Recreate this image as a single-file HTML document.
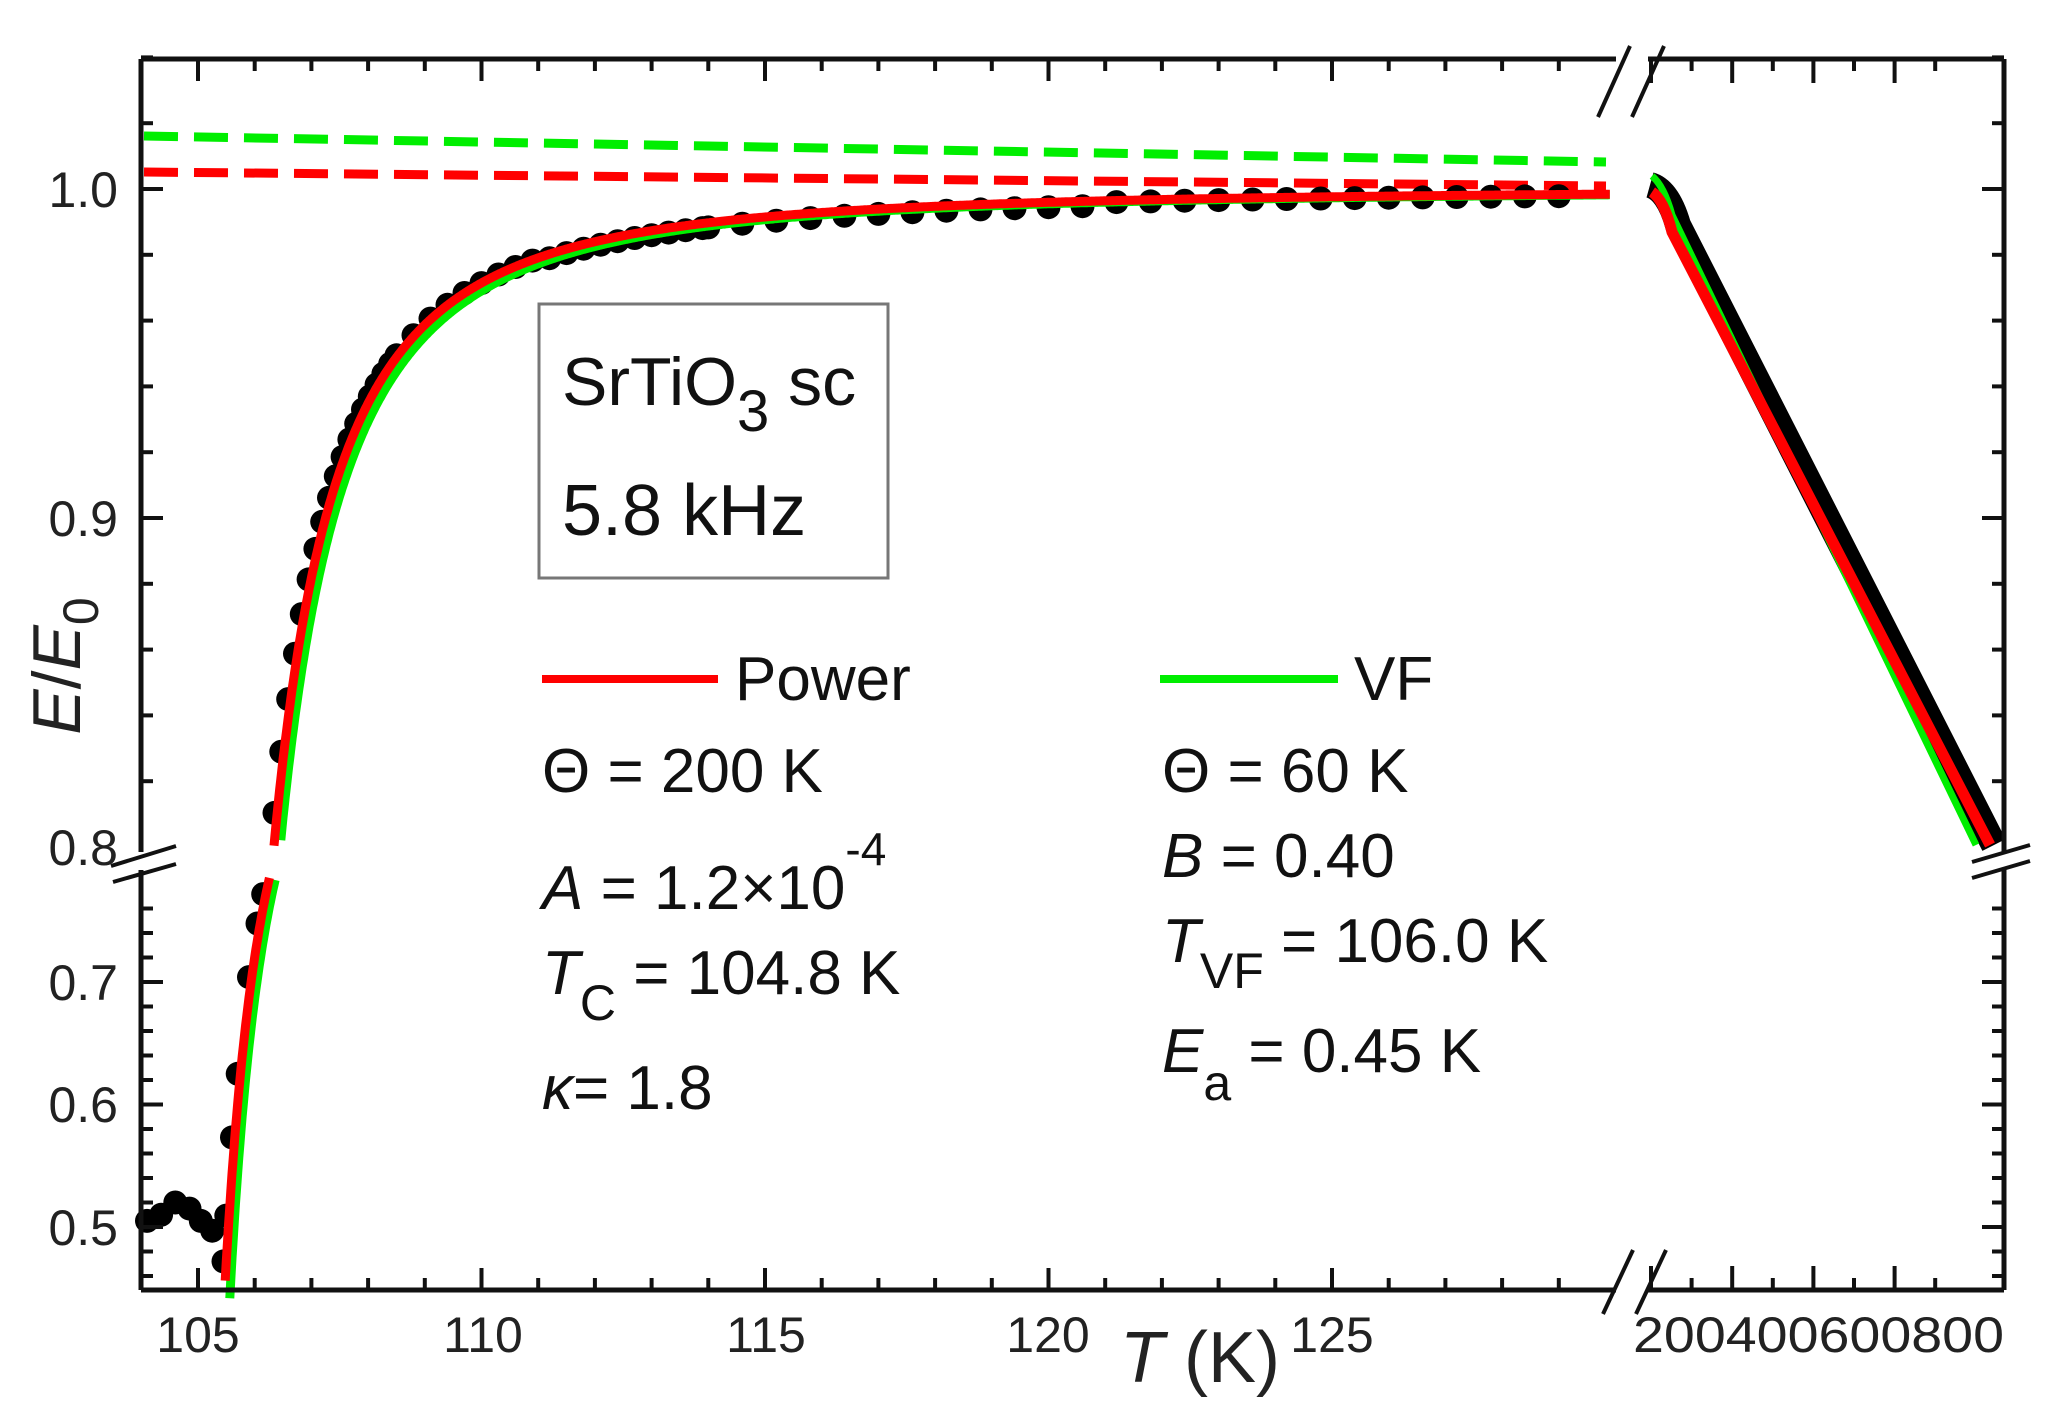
<!DOCTYPE html>
<html><head><meta charset="utf-8"><style>
html,body{margin:0;padding:0;background:#fff;}
svg{display:block;}
.tk{font-family:"Liberation Sans",sans-serif;font-size:50px;fill:#222;}
.lg{font-family:"Liberation Sans Narrow","Liberation Sans",sans-serif;font-size:62px;fill:#111;}
</style></head><body>
<svg id="s" width="2047" height="1416" viewBox="0 0 2047 1416" xmlns="http://www.w3.org/2000/svg">
<g id="plot"></g>
<g id="axes" stroke="#111" fill="none" stroke-width="5"></g>
<rect x="539" y="304" width="349" height="274" fill="none" stroke="#777" stroke-width="3"/>
<text class="lg" x="562" y="405" style="font-size:68px">SrTiO<tspan dy="26" style="font-size:58px">3</tspan><tspan dy="-26"> sc</tspan></text>
<text class="lg" x="562" y="535" style="font-size:72px">5.8 kHz</text>
<line x1="542" y1="679" x2="718" y2="679" stroke="#f00" stroke-width="8"/>
<text class="lg" x="735" y="700">Power</text>
<line x1="1160" y1="679" x2="1338" y2="679" stroke="#0e0" stroke-width="8"/>
<text class="lg" x="1354" y="700">VF</text>
<text class="lg" x="542" y="792">Θ = 200 K</text>
<text class="lg" x="542" y="909"><tspan font-style="italic">A</tspan> = 1.2×10<tspan dy="-44" style="font-size:46px">-4</tspan></text>
<text class="lg" x="542" y="994"><tspan font-style="italic">T</tspan><tspan dy="26" style="font-size:50px">C</tspan><tspan dy="-26"> = 104.8 K</tspan></text>
<text class="lg" x="542" y="1109"><tspan font-style="italic">κ</tspan>= 1.8</text>
<text class="lg" x="1162" y="792">Θ = 60 K</text>
<text class="lg" x="1162" y="877"><tspan font-style="italic">B</tspan> = 0.40</text>
<text class="lg" x="1162" y="962"><tspan font-style="italic">T</tspan><tspan dy="26" style="font-size:50px">VF</tspan><tspan dy="-26"> = 106.0 K</tspan></text>
<text class="lg" x="1162" y="1072"><tspan font-style="italic">E</tspan><tspan dy="28" style="font-size:50px">a</tspan><tspan dy="-28"> = 0.45 K</tspan></text>
<g class="tk" text-anchor="end">
<text x="118" y="207">1.0</text><text x="118" y="536">0.9</text><text x="118" y="865">0.8</text>
<text x="118" y="1000">0.7</text><text x="118" y="1122">0.6</text><text x="118" y="1245">0.5</text>
</g>
<g class="tk" text-anchor="middle">
<text x="198" y="1352">105</text><text x="483" y="1352">110</text><text x="766" y="1352">115</text>
<text x="1048" y="1352">120</text><text x="1332" y="1352">125</text>
</g>
<text class="tk" x="1633" y="1352" textLength="371" lengthAdjust="spacingAndGlyphs">200400600800</text>
<text class="tk" x="1120" y="1382" style="font-size:72px"><tspan font-style="italic">T</tspan> (K)</text>
<text class="tk" transform="translate(80,666) rotate(-90)" text-anchor="middle" style="font-size:68px"><tspan font-style="italic">E</tspan>/<tspan font-style="italic">E</tspan><tspan dy="18" style="font-size:50px">0</tspan></text>
</svg>
<script>
(function(){
var NS="http://www.w3.org/2000/svg";
var plot=document.getElementById("plot"),axes=document.getElementById("axes");
function el(tag,attrs,parent){var e=document.createElementNS(NS,tag);for(var k in attrs)e.setAttribute(k,attrs[k]);(parent||plot).appendChild(e);return e;}
function X(T){return 198+(T-105)*56.7;}
function Y(v){ if(v>=0.8) return 189+(1-v)*3290; return 1227-(v-0.5)*1225; }
function model(T,T0,c,k){var d=T-T0; if(d<=0) return 0; return 1-c/Math.pow(d,k);}
el("line",{x1:144,y1:136,x2:1606,y2:162,stroke:"#0e0","stroke-width":9,"stroke-dasharray":"34 16"});
el("line",{x1:144,y1:172,x2:1606,y2:186,stroke:"#f00","stroke-width":9,"stroke-dasharray":"34 16"});
var dots=[];
[[104.1,0.505],[104.35,0.51],[104.6,0.52],[104.85,0.515],[105.05,0.505],[105.25,0.497]].forEach(function(p){dots.push([X(p[0]),Y(p[1])]);});
var Ts=[105.45,105.5,105.6,105.7,105.9,106.05,106.15,106.2];
for(var t=106.35;t<108.5;t+=0.12)Ts.push(t);
for(var t=108.5;t<114;t+=0.3)Ts.push(t);
for(var t=114;t<129.5;t+=0.6)Ts.push(t);
Ts.forEach(function(T){var v=model(T,104.15,0.88,1.95); if(T>111&&T<121)v-=0.0015; else v-=0.0005; if(v<0.79&&v>0.78)return; dots.push([X(T),Y(v)]);});
dots.forEach(function(d){el("circle",{cx:d[0].toFixed(1),cy:d[1].toFixed(1),r:12,fill:"#000"});});
function curve(T0,c,k,col,w){
 var p1="",p2="";
 for(var T=105.3;T<=129.9;T+=0.02){var v=model(T,T0,c,k); if(v<0.44)continue;
  if(v<0.787){p1+=(p1?"L":"M")+X(T).toFixed(1)+","+Y(v).toFixed(1);}
  else if(v>0.8){p2+=(p2?"L":"M")+X(T).toFixed(1)+","+Y(v).toFixed(1);}}
 el("path",{d:p1,stroke:col,"stroke-width":w,fill:"none"});
 el("path",{d:p2,stroke:col,"stroke-width":w,fill:"none"});
}
curve(104.32,0.84,1.9,"#0e0",9);
curve(104.2,0.88,1.95,"#f00",9);
el("path",{d:"M1650,185 Q1668,190 1678,225 L1994,845",stroke:"#000","stroke-width":26,fill:"none"});
el("path",{d:"M1652,176 Q1664,186 1672,215 L1976,845",stroke:"#0e0","stroke-width":7,fill:"none"});
el("path",{d:"M1652,192 Q1664,200 1672,232 L1990,845",stroke:"#f00","stroke-width":11,fill:"none"});
function L(x1,y1,x2,y2,w){el("line",{x1:x1,y1:y1,x2:x2,y2:y2,"stroke-width":w||5},axes);}
L(141,59,1616,59); L(1648,59,2004,59);
L(141,1290,1616,1290); L(1648,1290,2004,1290);
L(141,59,141,852); L(141,870,141,1290);
L(2004,59,2004,852); L(2004,870,2004,1290);
L(1598,117,1630,46,4);L(1632,117,1664,46,4);
L(1603,1314,1633,1250,4);L(1636,1314,1666,1250,4);
L(111,866,176,846,4);L(113,882,176,864,4);
L(1972,862,2030,845,4);L(1972,878,2030,861,4);
for(var T=105;T<=129;T++){var x=X(T),len=(T%5==0)?22:12;L(x,1290,x,1290-len,4);L(x,59,x,59+len,4);}
for(var i=0;i<8;i++){var x=1651+i*40.6,len=(i%2==0)?24:12;L(x,1290,x,1290-len,4);L(x,59,x,59+len,4);}
for(var v=1.04;v>=0.8;v-=0.02){var y=Y(v),maj=Math.abs(v*10-Math.round(v*10))<0.01,len=maj?22:12;L(141,y,141+len,y,4);L(2004,y,2004-len,y,4);}
for(var v=0.46;v<=0.78;v+=0.02){var y=1227-(v-0.5)*1225,maj=Math.abs(v*10-Math.round(v*10))<0.01,len=maj?22:12;L(141,y,141+len,y,4);L(2004,y,2004-len,y,4);}
})();
</script>
</body></html>
